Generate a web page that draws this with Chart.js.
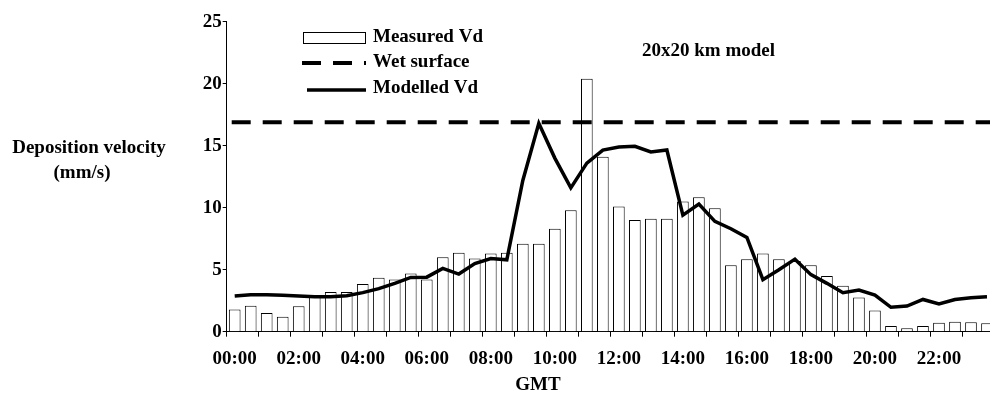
<!DOCTYPE html>
<html lang="en">
    <head>
        <meta charset="UTF-8" />
        <title>Deposition velocity</title>
        <script src="https://cdn.jsdelivr.net/npm/chart.js@4.4.0/dist/chart.umd.min.js"></script>
        <style>
            body { margin: 0; background: #fff; overflow: hidden; }
        </style>
    </head>
    <body>
        <canvas id="chart" width="1000" height="394"></canvas>
        <script>
        // half-hourly values, GMT
        const xlabels = [
            '00:00','00:30','01:00','01:30','02:00','02:30','03:00','03:30',
            '04:00','04:30','05:00','05:30','06:00','06:30','07:00','07:30',
            '08:00','08:30','09:00','09:30','10:00','10:30','11:00','11:30',
            '12:00','12:30','13:00','13:30','14:00','14:30','15:00','15:30',
            '16:00','16:30','17:00','17:30','18:00','18:30','19:00','19:30',
            '20:00','20:30','21:00','21:30','22:00','22:30','23:00','23:30'
        ];
        const measuredVd = [
            1.8, 2.1, 1.5, 1.2, 2.05, 2.8, 3.2, 3.2,
            3.85, 4.35, 4.2, 4.7, 4.2, 6.0, 6.37, 5.9,
            6.3, 6.37, 7.1, 7.1, 8.3, 9.8, 20.4, 14.1,
            10.1, 9.0, 9.1, 9.1, 10.5, 10.85, 9.95, 5.35,
            5.85, 6.3, 5.85, 5.7, 5.35, 4.5, 3.7, 2.75,
            1.7, 0.45, 0.27, 0.45, 0.73, 0.8, 0.76, 0.68
        ];
        const modelledVd = [
            2.88, 2.98, 2.98, 2.93, 2.88, 2.82, 2.82, 2.9,
            3.15, 3.47, 3.9, 4.38, 4.4, 5.1, 4.65, 5.5,
            5.9, 5.8, 12.2, 16.8, 14.0, 11.6, 13.6, 14.65,
            14.9, 14.95, 14.5, 14.65, 9.4, 10.3, 8.9, 8.3,
            7.6, 4.2, 5.0, 5.85, 4.6, 3.9, 3.15, 3.36,
            2.96, 1.97, 2.07, 2.6, 2.23, 2.6, 2.74, 2.82
        ];
        const wetSurface = 16.9;
        const yTicks = [0, 5, 10, 15, 20, 25];

        const FONT = '"Liberation Serif", "Times New Roman", serif';

        // dashed wet-surface level, legend and free text
        const overlay = {
            id: 'overlay',
            afterDatasetsDraw(chart) {
                const ctx = chart.ctx;
                const area = chart.chartArea;
                const y = chart.scales.y.getPixelForValue(wetSurface);
                ctx.save();
                ctx.strokeStyle = '#000';
                ctx.lineWidth = 4;
                ctx.setLineDash([19, 12]);
                ctx.beginPath();
                ctx.moveTo(area.left + 5, y);
                ctx.lineTo(area.right, y);
                ctx.stroke();
                ctx.restore();
            },
            afterDraw(chart) {
                const ctx = chart.ctx;
                ctx.save();
                ctx.fillStyle = '#000';
                ctx.strokeStyle = '#000';
                ctx.font = 'bold 19px ' + FONT;
                ctx.textBaseline = 'middle';

                // legend
                ctx.lineWidth = 1;
                ctx.fillStyle = '#fff';
                ctx.fillRect(303.5, 32.5, 62, 11);
                ctx.strokeRect(303.5, 32.5, 62, 11);
                ctx.fillStyle = '#000';
                ctx.fillText('Measured Vd', 373, 37);

                ctx.lineWidth = 4;
                ctx.setLineDash([19, 12]);
                ctx.beginPath();
                ctx.moveTo(302, 63);
                ctx.lineTo(366, 63);
                ctx.stroke();
                ctx.setLineDash([]);
                ctx.fillText('Wet surface', 373, 62);

                ctx.lineWidth = 3.5;
                ctx.beginPath();
                ctx.moveTo(307, 90);
                ctx.lineTo(366, 90);
                ctx.stroke();
                ctx.fillText('Modelled Vd', 373, 88);

                ctx.fillText('20x20 km model', 642, 51);

                // axis titles
                ctx.textAlign = 'center';
                ctx.fillText('Deposition velocity', 89, 148);
                ctx.fillText('(mm/s)', 82, 173);
                ctx.fillText('GMT', 538, 385);
                ctx.restore();
            }
        };

        const ctx = document.getElementById('chart').getContext('2d');
        const myChart = new Chart(ctx, {
            type: 'bar',
            data: {
                labels: xlabels,
                datasets: [{
                    type: 'line',
                    label: 'Modelled Vd',
                    data: modelledVd,
                    borderColor: '#000',
                    borderWidth: 3.5,
                    pointRadius: 0,
                    tension: 0,
                    order: 1
                }, {
                    label: 'Measured Vd',
                    data: measuredVd,
                    backgroundColor: '#fff',
                    borderColor: '#000',
                    borderWidth: 1,
                    barPercentage: 0.73,
                    categoryPercentage: 1.0,
                    order: 2
                }]
            },
            options: {
                responsive: false,
                animation: false,
                layout: { padding: { left: 166.7, top: 21.7, right: 5, bottom: 0 } },
                plugins: {
                    legend: { display: false },
                    tooltip: { enabled: false }
                },
                scales: {
                    x: {
                        offset: true,
                        afterFit(scale) { scale.height = 62.3; },
                        grid: {
                            offset: true,
                            drawOnChartArea: false,
                            tickLength: 5,
                            color: c => (c.index % 2 === 0 ? '#000' : 'rgba(0,0,0,0)')
                        },
                        border: { color: '#000', width: 1 },
                        ticks: {
                            autoSkip: false,
                            maxRotation: 0,
                            padding: 11,
                            color: '#000',
                            font: { family: FONT, size: 19, weight: 'bold' },
                            callback: (val, i) => (i % 4 === 0 ? xlabels[i] : '')
                        }
                    },
                    y: {
                        min: 0,
                        max: 25,
                        afterFit(scale) { scale.width = 60; },
                        afterBuildTicks(scale) { scale.ticks = yTicks.map(v => ({ value: v })); },
                        grid: {
                            drawOnChartArea: false,
                            tickLength: 4,
                            color: '#000'
                        },
                        border: { color: '#000', width: 1 },
                        ticks: {
                            padding: 1,
                            color: '#000',
                            font: { family: FONT, size: 19, weight: 'bold' }
                        }
                    }
                }
            },
            plugins: [overlay]
        });
        </script>
    </body>
</html>
